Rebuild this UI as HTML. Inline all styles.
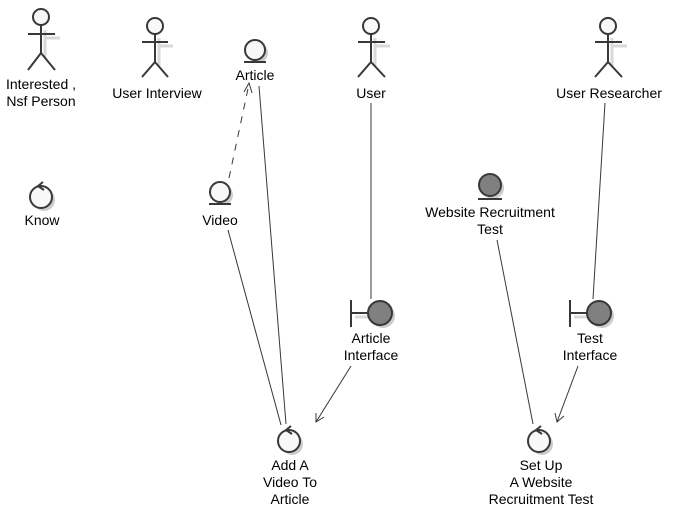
<!DOCTYPE html>
<html><head><meta charset="utf-8"><style>
html,body{margin:0;padding:0;background:#fff;}
svg{display:block;font-family:"Liberation Sans",sans-serif;font-size:14px;}
</style></head><body>
<svg width="674" height="518" viewBox="0 0 674 518">
<g stroke="#383838" stroke-width="1" fill="none">
<line x1="229" y1="178" x2="249" y2="84" stroke-dasharray="7,7"/>
<polyline points="244,92 249,83 252,93"/>
<line x1="259" y1="86" x2="286" y2="424"/>
<line x1="228" y1="230" x2="281" y2="425"/>
<line x1="371" y1="103" x2="371" y2="299"/>
<line x1="351" y1="366" x2="316" y2="422"/>
<polyline points="316,413 316,422 324,417"/>
<line x1="605" y1="103" x2="593" y2="299"/>
<line x1="497" y1="240" x2="533" y2="424"/>
<line x1="578" y1="366" x2="557" y2="422"/>
<polyline points="555,413 557,422 564,416"/>
</g>
<!-- shadows -->
<g fill="#d0d0d0" stroke="#d0d0d0" stroke-width="3" opacity="0.8">
<line x1="45" y1="38" x2="60" y2="38"/><line x1="45" y1="30" x2="45" y2="58"/>
<line x1="159" y1="46" x2="173" y2="46"/><line x1="159" y1="38" x2="159" y2="66"/>
<line x1="375" y1="46" x2="390" y2="46"/><line x1="375" y1="38" x2="375" y2="66"/>
<line x1="612" y1="46" x2="627" y2="46"/><line x1="612" y1="38" x2="612" y2="66"/>
<line x1="355" y1="317" x2="370" y2="317"/>
<line x1="574" y1="317" x2="589" y2="317"/>
</g>
<g fill="#ccc" stroke="none">
<circle cx="258" cy="53" r="10"/><circle cx="223" cy="195" r="10"/><circle cx="493" cy="188" r="11"/>
<circle cx="383" cy="316" r="12"/><circle cx="602" cy="316" r="12"/>
<circle cx="44" cy="200" r="11"/><circle cx="292" cy="444" r="11"/><circle cx="542" cy="444" r="11"/>
</g>
<g stroke="#383838" stroke-width="2" fill="#f8f8f8">
<g><circle cx="41" cy="17" r="8"/><line x1="41" y1="25" x2="41" y2="53"/><line x1="28" y1="34" x2="55" y2="34"/><polyline fill="none" points="28,70 41,53 55,70"/></g>
<g><circle cx="155" cy="26" r="8"/><line x1="155" y1="34" x2="155" y2="62"/><line x1="142" y1="42" x2="168" y2="42"/><polyline fill="none" points="142,77 155,62 168,77"/></g>
<g><circle cx="371" cy="26" r="8"/><line x1="371" y1="34" x2="371" y2="62"/><line x1="358" y1="42" x2="385" y2="42"/><polyline fill="none" points="358,77 371,62 385,77"/></g>
<g><circle cx="608" cy="26" r="8"/><line x1="608" y1="34" x2="608" y2="62"/><line x1="595" y1="42" x2="622" y2="42"/><polyline fill="none" points="595,77 608,62 622,77"/></g>
<g><circle cx="255" cy="50" r="10"/><line x1="244" y1="62" x2="266" y2="62"/></g>
<g><circle cx="220" cy="192" r="10"/><line x1="209" y1="204" x2="231" y2="204"/></g>
<g fill="#808080"><circle cx="490" cy="185" r="11"/><line x1="478" y1="199" x2="502" y2="199"/></g>
<g fill="#808080"><line x1="351" y1="300" x2="351" y2="327"/><line x1="351" y1="313" x2="368" y2="313"/><circle cx="380" cy="313" r="12"/></g>
<g fill="#808080"><line x1="570" y1="300" x2="570" y2="327"/><line x1="570" y1="313" x2="587" y2="313"/><circle cx="599" cy="313" r="12"/></g>
<g><circle cx="41" cy="197" r="11"/><polyline fill="none" points="43,182 38,186 44,190"/></g>
<g><circle cx="289" cy="441" r="11"/><polyline fill="none" points="291,426 286,430 292,434"/></g>
<g><circle cx="539" cy="441" r="11"/><polyline fill="none" points="541,426 536,430 542,434"/></g>
</g>
<g fill="#000" text-anchor="middle">
<text x="41" y="89">Interested ,</text><text x="41" y="106">Nsf Person</text>
<text x="157" y="98">User Interview</text>
<text x="255" y="80">Article</text>
<text x="371" y="98">User</text>
<text x="609" y="98">User Researcher</text>
<text x="42" y="225">Know</text>
<text x="220" y="225">Video</text>
<text x="490" y="217">Website Recruitment</text><text x="490" y="234">Test</text>
<text x="371" y="343">Article</text><text x="371" y="360">Interface</text>
<text x="590" y="343">Test</text><text x="590" y="360">Interface</text>
<text x="290" y="470">Add A</text><text x="290" y="487">Video To</text><text x="290" y="504">Article</text>
<text x="541" y="470">Set Up</text><text x="541" y="487">A Website</text><text x="541" y="504">Recruitment Test</text>
</g>
</svg>
</body></html>
